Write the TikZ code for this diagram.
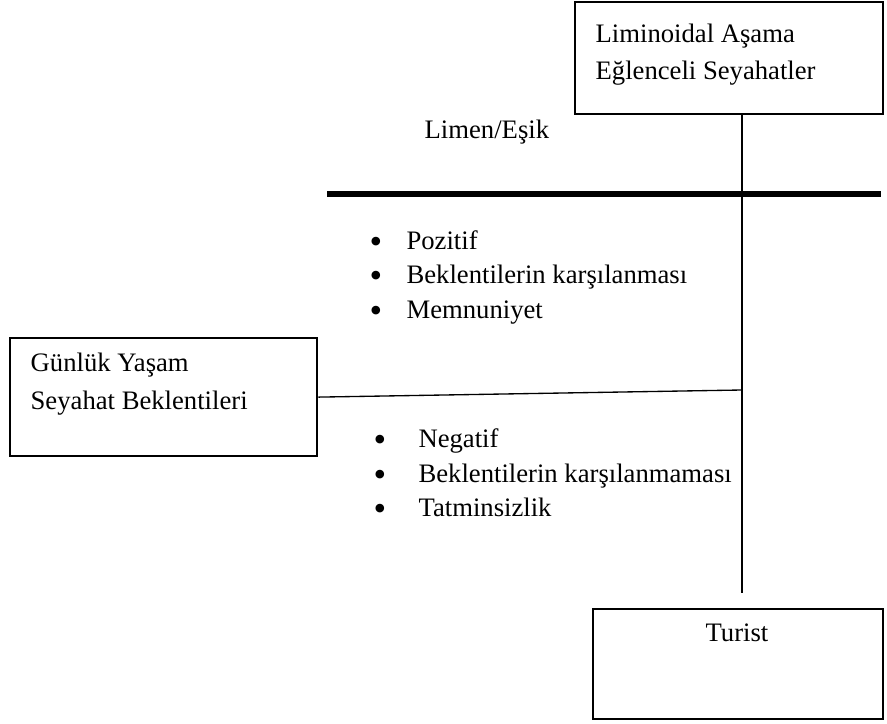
\documentclass[tikz,border=0pt]{standalone}
\usepackage{fontspec}
\setmainfont{Liberation Serif}
\usetikzlibrary{positioning}

\newcommand{\bul}[1]{\makebox[#1][l]{\smash{\raisebox{-0.25ex}{\scalebox{1.35}{\textbullet}}}}}

\begin{document}
\begin{tikzpicture}[x=0.45pt, y=-0.45pt, line width=0.6pt,
  every node/.style={font=\fontsize{12}{14}\selectfont, inner sep=0pt},
  box/.style={draw, line width=0.7pt, anchor=north west},
  txt/.style={anchor=base west}]
\useasboundingbox (0,0) rectangle (887,724);
% boxes
\node[box, minimum width=138.6pt, minimum height=50.4pt] (liminoid) at (574,1) {};
\node[box, line width=1pt, minimum width=138.2pt, minimum height=53.1pt] (daily) at (9,337) {};
\node[box, minimum width=130.5pt, minimum height=49.5pt] (tourist) at (592,608) {};
% box texts
\node[txt] (liminoidA) at (595,43) {Liminoidal Aşama};
\node[txt] (liminoidB) at (595,80) {Eğlenceli Seyahatler};
\node[txt] (dailyA) at (30,372) {Günlük Yaşam};
\node[txt] (dailyB) at (30,410) {Seyahat Beklentileri};
\node[anchor=base] (touristA) at (737,642) {Turist};
% threshold
\node[txt] (limen) at (424,139) {Limen/Eşik};
\coordinate (limenL) at (327,194);
\coordinate (limenR) at (881,194);
\draw[line width=2.7pt] (limenL) -- (limenR);
% stem and branch
\coordinate (stem) at (742,593);
\coordinate (junction) at (742,390);
\draw (stem |- liminoid.south) -- (stem);
\draw (daily.east) -- (junction);
% positive outcomes
\node[txt] (pos1) at (369,250) {\bul{16.6pt}Pozitif};
\node[txt] (pos2) at (369,284) {\bul{16.6pt}Beklentilerin karşılanması};
\node[txt] (pos3) at (369,319) {\bul{16.6pt}Memnuniyet};
% negative outcomes
\node[txt] (neg1) at (373,448) {\bul{20.2pt}Negatif};
\node[txt] (neg2) at (373,483) {\bul{20.2pt}Beklentilerin karşılanmaması};
\node[txt] (neg3) at (373,517) {\bul{20.2pt}Tatminsizlik};
\end{tikzpicture}
\end{document}
